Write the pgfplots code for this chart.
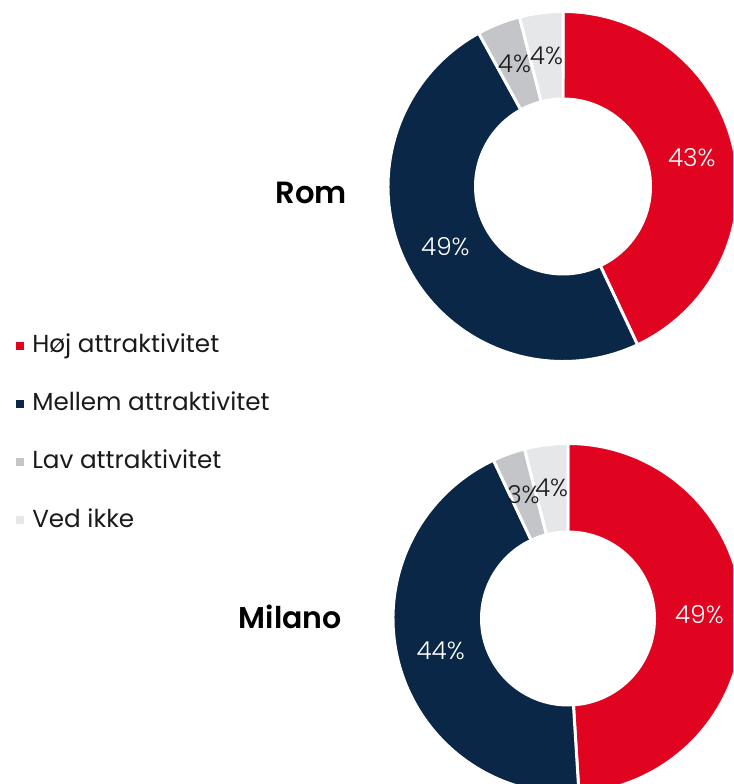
\documentclass[border=0pt]{standalone}
\usepackage{pgfplots}
\pgfplotsset{compat=1.18}
\usepackage{fontspec}
\setmainfont{Poppins}
\newfontfamily\lightfont{Poppins}[UprightFont={* Light}]
\newfontfamily\titlefont{Poppins}[UprightFont={* SemiBold}]
\definecolor{cRed}{HTML}{E00421}
\definecolor{cNavy}{HTML}{0A2747}
\definecolor{cGray}{HTML}{C3C5C9}
\definecolor{cLight}{HTML}{E6E7E9}
\definecolor{cText}{HTML}{1A1A1A}
\newcommand{\pctfont}{\lightfont\fontsize{18.5}{22}\selectfont}
% one slice: cx, cy, R, from angle, to angle, colour
\newcommand{\slice}[6]{%
  \edef\doit{\noexpand\addplot[fill=#6,draw=white,line width=2.2pt,domain=#4:#5,samples=90,variable=\noexpand\t]
    ({#1+#3*cos(\noexpand\t)},{#2+#3*sin(\noexpand\t)}) -- (#1,#2) -- cycle;}\doit}
% label: cx, cy, radius, a1, a2, value, colour
\newcommand{\plabel}[7]{%
  \pgfmathsetmacro\mid{(#4+#5)/2}%
  \pgfmathsetmacro\lx{#1+#3*cos(\mid)}%
  \pgfmathsetmacro\ly{#2+#3*sin(\mid)}%
  \edef\doit{\noexpand\node[text=#7,font=\noexpand\pctfont,inner sep=0pt] at (axis cs:\lx,\ly) {#6\noexpand\%};}\doit}
% donut: cx, cy, R, r, v1..v4
\newcommand{\donut}[8]{%
  \pgfmathsetmacro\aA{90}%
  \pgfmathsetmacro\aB{90-3.6*#5}%
  \pgfmathsetmacro\aC{\aB-3.6*#6}%
  \pgfmathsetmacro\aD{\aC-3.6*#7}%
  \pgfmathsetmacro\aE{\aD-3.6*#8}%
  \slice{#1}{#2}{#3}{\aB}{\aA}{cRed}%
  \slice{#1}{#2}{#3}{\aC}{\aB}{cNavy}%
  \slice{#1}{#2}{#3}{\aD}{\aC}{cGray}%
  \slice{#1}{#2}{#3}{\aE}{\aD}{cLight}%
  \addplot[fill=white,draw=none,domain=0:360,samples=120] ({#1+#4*cos(x)},{#2+#4*sin(x)}) -- cycle;
  \pgfmathsetmacro\rm{(#3+#4)/2}%
  \plabel{#1}{#2}{\rm}{\aB}{\aA}{#5}{white}%
  \plabel{#1}{#2}{\rm}{\aC}{\aB}{#6}{white}%
  \plabel{#1}{#2}{\rm}{\aD}{\aC}{#7}{cText}%
  \plabel{#1}{#2}{\rm}{\aE}{\aD}{#8}{cText}%
}
\begin{document}
\begin{tikzpicture}
\begin{axis}[
  scale only axis, width=549.75pt, height=588pt,
  xmin=0, xmax=733, ymin=-784, ymax=0,
  hide axis, clip=true,
  legend image code/.code={\fill[#1] (0pt,2pt) rectangle (6pt,8pt);},
  legend style={at={(axis cs:16,-334.7)}, anchor=north west, draw=none, fill=none,
    inner sep=0pt, row sep=26.7pt, column sep=6pt,
    font=\fontsize{18.5}{22}\selectfont, text=cText,
    nodes={inner sep=0pt, text height=13pt, text depth=4pt, anchor=base west}},
  legend cell align=left,
]
\addlegendimage{fill=cRed, draw=none}
\addlegendentry{Høj attraktivitet}
\addlegendimage{fill=cNavy, draw=none}
\addlegendentry{Mellem attraktivitet}
\addlegendimage{fill=cGray, draw=none}
\addlegendentry{Lav attraktivitet}
\addlegendimage{fill=cLight, draw=none}
\addlegendentry{Ved ikke}
% Rom: 43, 49, 4, 4
\donut{563}{-186.5}{175}{89}{43}{49}{4}{4}
% Milano: 49, 44, 3, 4
\donut{568}{-618.5}{175}{88}{49}{44}{3}{4}
\node[anchor=east, font=\titlefont\fontsize{23}{26}\selectfont, text=black, inner sep=0pt] at (axis cs:347,-193) {Rom};
\node[anchor=east, font=\titlefont\fontsize{22.5}{26}\selectfont, text=black, inner sep=0pt] at (axis cs:342,-617) {Milano};
\end{axis}
\pgfresetboundingbox
\path (current axis.south west) rectangle (current axis.north east);
\end{tikzpicture}
\end{document}
